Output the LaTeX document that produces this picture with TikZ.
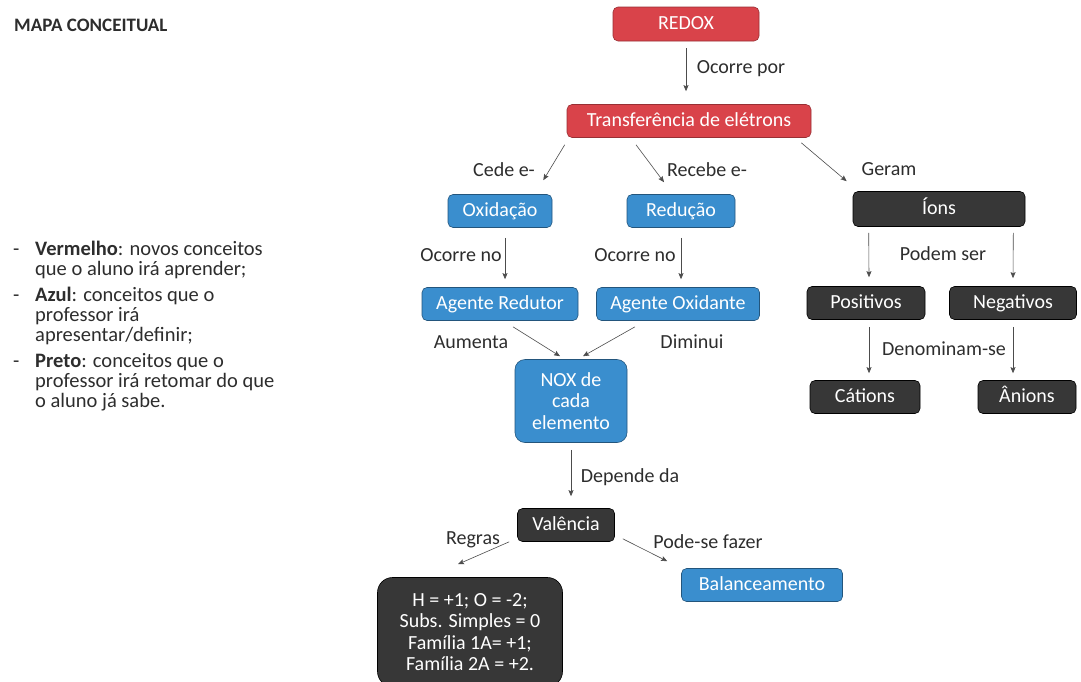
\documentclass[tikz,border=0pt]{standalone}
\usepackage{fontspec}
\setmainfont{Carlito}
\usetikzlibrary{arrows.meta}
\definecolor{vermelho}{RGB}{217,67,74}
\definecolor{azul}{RGB}{58,142,206}
\definecolor{preto}{RGB}{55,55,55}
\definecolor{texto}{RGB}{45,45,45}

\begin{document}
\begin{tikzpicture}[x=1pt,y=-1pt,
conf/.style={
	rectangle,inner sep=0pt,rounded corners=5pt,
	line width=0.6pt,text=white,
	font=\fontsize{20}{21.5}\selectfont},
linha/.style={text height=15pt,text depth=4pt},
novo/.style={fill=vermelho,draw=vermelho!70!black},
apres/.style={fill=azul,draw=azul!60!black},
sabido/.style={fill=preto,draw=black},
lbl/.style={inner sep=0pt,text=texto,text height=15pt,text depth=4pt,
	font=\fontsize{20}{21.5}\selectfont},
seta/.style={draw=texto!85,line width=0.6pt,
	-{Stealth[length=6pt,width=5pt,inset=1pt]}}
]
\useasboundingbox (0,0) rectangle (1081,681);

\node[anchor=base west,inner sep=0pt,text=texto,
	font=\bfseries\fontsize{19}{20}\selectfont] (titulo) at (14,31) {MAPA CONCEITUAL};
\node[anchor=north west,inner sep=0pt,text=texto,align=left,
	font=\fontsize{20.5}{20}\selectfont] (legenda) at (13,241) {%
\makebox[22pt][l]{-}\textbf{Vermelho}: novos conceitos\\
\hspace*{22pt}que o aluno irá aprender;\\[6pt]
\makebox[22pt][l]{-}\textbf{Azul}: conceitos que o\\
\hspace*{22pt}professor irá\\
\hspace*{22pt}apresentar/definir;\\[6pt]
\makebox[22pt][l]{-}\textbf{Preto}: conceitos que o\\
\hspace*{22pt}professor irá retomar do que\\
\hspace*{22pt}o aluno já sabe.};

\node[conf,linha,novo,minimum width=146pt,minimum height=34pt] (redox) at (686,24) {REDOX};
\node[conf,linha,novo,minimum width=244pt,minimum height=33pt] (transf) at (689,121) {Transferência de elétrons};
\node[conf,linha,apres,minimum width=104pt,minimum height=33pt] (oxid) at (500,211) {Oxidação};
\node[conf,linha,apres,minimum width=108pt,minimum height=33pt] (redu) at (681,211) {Redução};
\node[conf,linha,sabido,minimum width=172pt,minimum height=35pt] (ions) at (939,209) {Íons};
\node[conf,linha,apres,minimum width=156pt,minimum height=33pt] (agred) at (500,304) {Agente Redutor};
\node[conf,linha,apres,minimum width=163pt,minimum height=33pt] (agoxi) at (678,304) {Agente Oxidante};
\node[conf,linha,sabido,minimum width=118pt,minimum height=33pt] (pos) at (866,303) {Positivos};
\node[conf,linha,sabido,minimum width=127pt,minimum height=33pt] (neg) at (1013,303) {Negativos};
\node[conf,linha,sabido,minimum width=110pt,minimum height=33pt] (cat) at (865,397) {Cátions};
\node[conf,linha,sabido,minimum width=98pt,minimum height=33pt] (anions) at (1027,397) {Ânions};
\node[conf,apres,align=center,rounded corners=10pt,minimum width=112pt,minimum height=83pt] (nox) at (571,401) {NOX de\\cada\\elemento};
\node[conf,linha,sabido,minimum width=97pt,minimum height=33pt] (val) at (566,525) {Valência};
\node[conf,linha,apres,minimum width=161pt,minimum height=33pt] (bal) at (762,585) {Balanceamento};
\node[conf,sabido,align=center,rounded corners=15pt,minimum width=185pt,minimum height=109pt] (regras) at (470,632) {H = +1; O = -2;\\Subs. Simples = 0\\Família 1A= +1;\\Família 2A = +2.};

\node[lbl] (l1) at (741,68) {Ocorre por};
\node[lbl] (l2) at (504,171) {Cede e-};
\node[lbl] (l3) at (707,171) {Recebe e-};
\node[lbl] (l4) at (889,170) {Geram};
\node[lbl] (l5) at (461,256) {Ocorre no};
\node[lbl] (l6) at (635,256) {Ocorre no};
\node[lbl] (l7) at (943,255) {Podem ser};
\node[lbl] (l8) at (944,350) {Denominam-se};
\node[lbl] (l9) at (471,343) {Aumenta};
\node[lbl] (l10) at (692,343) {Diminui};
\node[lbl] (l11) at (630,477) {Depende da};
\node[lbl] (l12) at (473,539) {Regras};
\node[lbl] (l13) at (708,543) {Pode-se fazer};

\draw[seta] ([yshift=-7pt]redox.south) -- ([yshift=13pt]redox.south |- transf.north);
\draw[seta] ([xshift=-2pt,yshift=-7pt]transf.south west) -- ([xshift=-9pt,yshift=14pt]oxid.north east);
\draw[seta] ([xshift=-53pt,yshift=-7pt]transf.south) -- ([xshift=-17pt,yshift=12pt]redu.north);
\draw[seta] ([xshift=-10pt,yshift=-5pt]transf.south east) -- ([xshift=-6pt,yshift=10pt]ions.north west);
\draw[seta] ([xshift=5pt,yshift=-10pt]oxid.south) -- ([xshift=5pt,yshift=8pt]agred.north);
\draw[seta] ([yshift=-10pt]redu.south) -- ([yshift=8pt]redu.south |- agoxi.north);
\draw[seta] ([xshift=16pt,yshift=-6pt]ions.south west) -- ([xshift=3pt,yshift=9pt]pos.north);
\draw[seta] ([xshift=-12pt,yshift=-6pt]ions.south east) -- ([yshift=8pt]neg.north);
\draw[seta] ([xshift=3pt,yshift=-7pt]pos.south) -- ([xshift=3pt,yshift=7pt]pos.south |- cat.north);
\draw[seta] ([yshift=-7pt]neg.south) -- ([yshift=7pt]neg.south |- anions.north);
\draw[seta] ([xshift=13pt,yshift=-6pt]agred.south) -- ([xshift=-11pt,yshift=3pt]nox.north);
\draw[seta] ([xshift=-43pt,yshift=-6pt]agoxi.south) -- ([xshift=12pt,yshift=3pt]nox.north);
\draw[seta] ([yshift=-7pt]nox.south) -- ([yshift=12pt]nox.south |- val.north);
\draw[seta] ([xshift=-8pt]val.south west) -- ([xshift=-12pt,yshift=13pt]regras.north);
\draw[seta] ([xshift=8pt,yshift=3pt]val.south east) -- ([xshift=-14pt,yshift=7pt]bal.north west);

\end{tikzpicture}
\end{document}
